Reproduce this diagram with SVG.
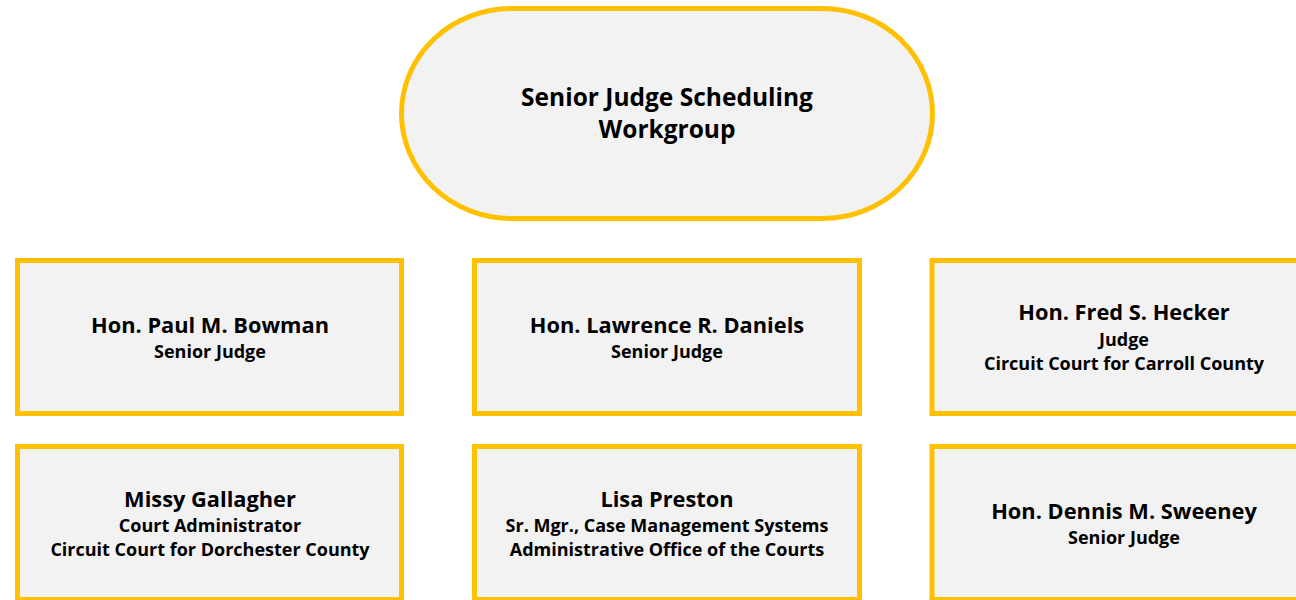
<svg xmlns="http://www.w3.org/2000/svg" width="1296" height="600" viewBox="0 0 1296 600">
<style>
.box{fill:#F2F2F2;stroke:#FFC000;stroke-width:5}
text{font-family:"Open Sans","Liberation Sans",Arial,sans-serif;font-weight:bold;fill:#000;text-anchor:middle}
.t{font-size:24.5px}
.n{font-size:21.8px}
.s{font-size:18px}
</style>
<rect width="1296" height="600" fill="#fff"/>
<g id="connectors"></g>
<g id="workgroup">
<rect class="box" x="401.5" y="8.5" width="531" height="210" rx="110" ry="105"/>
<text class="t" x="667" y="106">Senior Judge Scheduling</text>
<text class="t" x="667" y="138">Workgroup</text>
</g>
<g id="bowman">
<rect class="box" x="17.5" y="260.5" width="384" height="153"/>
<text class="n" x="210" y="333">Hon. Paul M. Bowman</text>
<text class="s" x="210" y="358">Senior Judge</text>
</g>
<g id="daniels">
<rect class="box" x="474.5" y="260.5" width="385" height="153"/>
<text class="n" x="667" y="333">Hon. Lawrence R. Daniels</text>
<text class="s" x="667" y="358">Senior Judge</text>
</g>
<g id="hecker">
<rect class="box" x="932" y="260.5" width="384" height="153"/>
<text class="n" x="1124" y="320">Hon. Fred S. Hecker</text>
<text class="s" x="1124" y="346">Judge</text>
<text class="s" x="1124" y="370">Circuit Court for Carroll County</text>
</g>
<g id="gallagher">
<rect class="box" x="17.5" y="446.5" width="384" height="153"/>
<text class="n" x="210" y="507">Missy Gallagher</text>
<text class="s" x="210" y="532">Court Administrator</text>
<text class="s" x="210" y="556">Circuit Court for Dorchester County</text>
</g>
<g id="preston">
<rect class="box" x="474.5" y="446.5" width="385" height="153"/>
<text class="n" x="667" y="507">Lisa Preston</text>
<text class="s" x="667" y="532">Sr. Mgr., Case Management Systems</text>
<text class="s" x="667" y="556">Administrative Office of the Courts</text>
</g>
<g id="sweeney">
<rect class="box" x="932" y="446.5" width="384" height="153"/>
<text class="n" x="1124" y="519">Hon. Dennis M. Sweeney</text>
<text class="s" x="1124" y="544">Senior Judge</text>
</g>
</svg>
